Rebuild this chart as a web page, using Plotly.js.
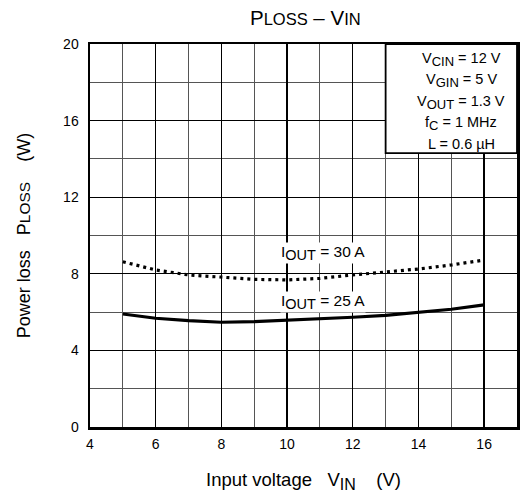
<!DOCTYPE html>
<html>
<head>
<meta charset="utf-8">
<script src="https://cdn.plot.ly/plotly-3.0.1.min.js"></script>
<style>html,body{margin:0;padding:0;background:#fff;}#chart{width:521px;height:501px;}</style>
</head>
<body>
<div id="chart"></div>
<script>
const vin = [5, 6, 7, 8, 9, 10, 11, 12, 13, 14, 15, 16];
const ploss30A = [8.63, 8.2, 7.94, 7.82, 7.71, 7.68, 7.76, 7.94, 8.08, 8.25, 8.46, 8.72];
const ploss25A = [5.9, 5.68, 5.55, 5.47, 5.5, 5.57, 5.64, 5.73, 5.83, 5.97, 6.15, 6.38];
const xTicks = [4, 6, 8, 10, 12, 14, 16];
const yTicks = [0, 4, 8, 12, 16, 20];
const sz = (t, px) => '<span style="font-size:' + px + 'px">' + t + '</span>';
const sub = (t, px) => '<sub>' + sz(t, px) + '</sub>';
const conditions = [
  "V" + sub("CIN", 13) + " = 12 V",
  "V" + sub("GIN", 13) + " = 5 V",
  "V" + sub("OUT", 13) + " = 1.3 V",
  "f" + sub("C", 13) + " = 1 MHz",
  "L = 0.6 \u00b5H"
];
const condY = [19.2, 18.08, 16.95, 15.85, 14.8];
const seriesLabels = ["30 A", "25 A"];

const font = "Liberation Sans, Arial, sans-serif";
const NB = "\u00a0";

const traces = [
  {x: vin, y: ploss30A, mode: "lines", line: {color: "#000", width: 3.2, dash: "3px,4px"}, hoverinfo: "skip"},
  {x: vin, y: ploss25A, mode: "lines", line: {color: "#000", width: 3.2}, hoverinfo: "skip"}
];

const iout = lbl => "I" + sub("OUT", 14.5) + " = " + lbl;
const annotations = [
  {x: 11.08, y: 9.1, xref: "x", yref: "y", text: iout(seriesLabels[0]), showarrow: false, bgcolor: "#fff", borderpad: 0, font: {size: 15.5, color: "#000", family: font}},
  {x: 11.1, y: 6.55, xref: "x", yref: "y", text: iout(seriesLabels[1]), showarrow: false, bgcolor: "#fff", borderpad: 0, font: {size: 15.5, color: "#000", family: font}}
];
conditions.forEach((t, i) => annotations.push({
  x: 15.3, y: condY[i], xref: "x", yref: "y", text: t, showarrow: false,
  font: {size: 14.5, color: "#000", family: font}
}));

const layout = {
  width: 521, height: 501,
  margin: {l: 90, r: 4, t: 44, b: 74},
  paper_bgcolor: "#fff", plot_bgcolor: "#fff",
  showlegend: false,
  font: {family: font, size: 14, color: "#000"},
  title: {text: "P" + sz("LOSS", 16.5) + " \u2013 V" + sz("IN", 16.5), x: 0.586, xanchor: "center", y: 0.965, yanchor: "middle", font: {size: 20.5, family: font, color: "#000"}},
  xaxis: {
    range: [4, 17], tickvals: xTicks, ticktext: xTicks.map(String),
    showgrid: true, gridcolor: "#000", gridwidth: 1.4,
    minor: {dtick: 1, tick0: 4, showgrid: true, gridcolor: "#555", gridwidth: 1},
    ticks: "", showline: true, linecolor: "#000", linewidth: 2.5, mirror: true,
    zeroline: false, fixedrange: true, ticklabelstandoff: 3,
    tickfont: {size: 14, family: font},
    title: {text: "Input voltage" + NB + NB + NB + "V" + sub("IN", 16) + NB + NB + NB + NB + "(V)", font: {size: 18.5, family: font}, standoff: 22}
  },
  yaxis: {
    range: [0, 20], tickvals: yTicks, ticktext: yTicks.map(String),
    showgrid: true, gridcolor: "#000", gridwidth: 1.4,
    minor: {dtick: 2, tick0: 0, showgrid: true, gridcolor: "#555", gridwidth: 1},
    ticks: "", showline: true, linecolor: "#000", linewidth: 2.5, mirror: true,
    zeroline: false, fixedrange: true, ticklabelstandoff: 6,
    tickfont: {size: 14, family: font},
    title: {text: "Power loss" + NB + NB + NB + "P" + sz("LOSS", 15.5) + NB + NB + NB + NB + "(W)", font: {size: 18, family: font}, standoff: 28}
  },
  shapes: [
    {type: "rect", xref: "x", yref: "y", x0: 13, x1: 17, y0: 14.3, y1: 20, fillcolor: "#fff", line: {color: "#000", width: 1.8}, layer: "above"}
  ],
  annotations: annotations
};

Plotly.newPlot("chart", traces, layout, {displayModeBar: false, staticPlot: true});
</script>
</body>
</html>
